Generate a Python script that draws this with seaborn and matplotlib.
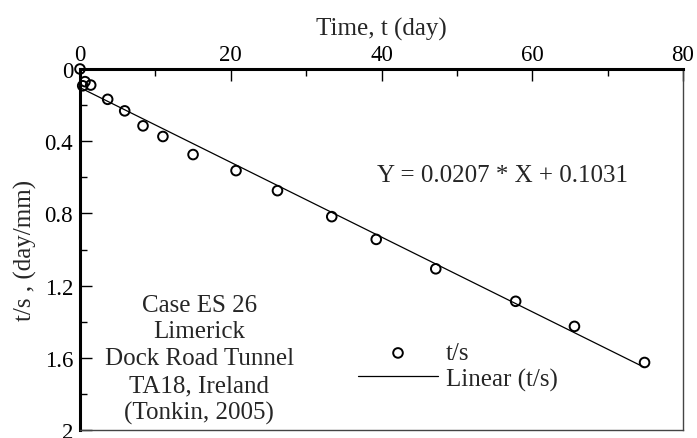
import numpy as np
import pandas as pd
import matplotlib
matplotlib.use("Agg")
import matplotlib.pyplot as plt
import seaborn as sns
from matplotlib.ticker import MultipleLocator

# ---- data ----
time_day = [0.0, 0.66, 0.36, 1.42, 3.67, 5.93, 8.36, 11.0, 15.0, 20.7, 26.2,
            33.4, 39.3, 47.2, 57.8, 65.6, 74.9]
t_over_s = [0.0, 0.07, 0.093, 0.089, 0.168, 0.232, 0.315, 0.374, 0.474, 0.563,
            0.674, 0.818, 0.944, 1.107, 1.287, 1.426, 1.626]
slope = 0.0207
intercept = 0.1031
fit_x = [0.0, 74.9]
fit_y = [slope * x + intercept for x in fit_x]
case_lines = ["Case ES 26", "Limerick", "Dock Road Tunnel", "TA18, Ireland", "(Tonkin, 2005)"]
x_ticks = [0, 20, 40, 60, 80]
y_ticks = [0, 0.4, 0.8, 1.2, 1.6, 2]
y_tick_labels = ["0", "0.4", "0.8", "1.2", "1.6", "2"]

sns.set_theme(style="white")
plt.rcParams['font.family'] = ['Liberation Serif', 'DejaVu Serif']

fig = plt.figure(figsize=(6.97, 4.39), dpi=100)
ax = fig.add_axes([80/697, 1-431/439, (683-80)/697, (431-70)/439])

pts = pd.DataFrame({"t": time_day, "ts": t_over_s})
fit = pd.DataFrame({"t": fit_x, "ts": fit_y})

sns.lineplot(data=fit, x="t", y="ts", ax=ax, color="black", lw=0.9, label="Linear (t/s)", zorder=2)
sns.scatterplot(data=pts, x="t", y="ts", ax=ax, marker="o", s=48, facecolor="none",
                edgecolor="black", linewidth=1.4, label="t/s", zorder=3, clip_on=False)

ax.set_xlim(0, 80)
ax.set_ylim(2, 0)
ax.xaxis.set_ticks_position("top")
ax.xaxis.set_label_position("top")
ax.set_xticks(x_ticks)
ax.set_yticks(y_ticks)
ax.set_yticklabels(y_tick_labels)
ax.xaxis.set_minor_locator(MultipleLocator(10))
ax.yaxis.set_minor_locator(MultipleLocator(0.2))
ax.tick_params(axis="both", which="major", direction="in", length=8.5, width=1, colors="black",
               labelsize=16.5)
ax.tick_params(axis="both", which="minor", direction="in", length=5, width=1, colors="black")
ax.tick_params(axis="x", which="both", top=True, bottom=False, labeltop=True, labelbottom=False, pad=3)
ax.tick_params(axis="y", which="both", left=True, right=False, pad=5)

ax.set_xlabel("Time, t (day)", fontsize=18, labelpad=7)
ax.set_ylabel("t/s , (day/mm)", fontsize=18, labelpad=5)

for side in ["top", "left"]:
    ax.spines[side].set_linewidth(2.2)
    ax.spines[side].set_color("black")
for side in ["right", "bottom"]:
    ax.spines[side].set_linewidth(1.0)
    ax.spines[side].set_color("#444444")
ax.grid(False)

ax.text(56.0, 0.585, "Y = 0.0207 * X + 0.1031", fontsize=18, ha="center", va="center")

y0 = 1.305
for i, line in enumerate(case_lines):
    ax.text(15.8, y0 + i * 0.149, line, fontsize=18, ha="center", va="center")

handles, labels = ax.get_legend_handles_labels()
order = [labels.index("t/s"), labels.index("Linear (t/s)")]
leg = ax.legend([handles[i] for i in order], [labels[i] for i in order],
                loc="upper left", bbox_to_anchor=((358-80)/603, 1-(343-70)/361),
                frameon=False, fontsize=18, handlelength=3.2, handletextpad=0.3,
                labelspacing=0.12, borderpad=0, borderaxespad=0)

fig.savefig("out.png", dpi=100)
